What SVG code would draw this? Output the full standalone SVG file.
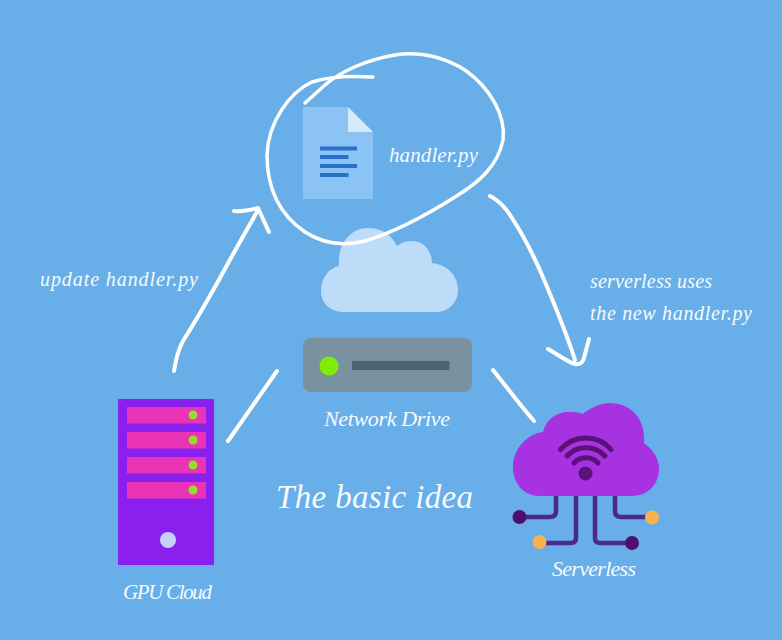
<svg xmlns="http://www.w3.org/2000/svg" width="782" height="640" viewBox="0 0 782 640">
<style>
.t{font-family:"Liberation Serif",serif;font-style:italic;fill:#f4fbff}
.s{fill:none;stroke:#fff;stroke-linecap:round;stroke-linejoin:round}
.c{fill:none;stroke:#4a2a8c;stroke-width:4.5}
</style>
<rect id="background" width="782" height="640" fill="#68aeE8"/>
<g id="file-node">
<path d="M303 107H348L373 132V199H303Z" fill="#8cc3f5"/>
<path d="M348 107L373 132H348Z" fill="#d5ebfb"/>
<g fill="#2a6fcb"><rect x="320" y="146.500" width="37" height="4"/><rect x="320" y="155" width="28.500" height="4"/><rect x="320" y="164" width="37" height="4"/><rect x="320" y="173" width="28.500" height="4"/></g>
<text class="t" x="389" y="162" font-size="21" textLength="89">handler.py</text>
</g>
<g id="network-drive-node">
<path d="M344 312C329 312 321 302 321 291C321 278 329 268 339 266C337 245 350 228 368 228C383 228 392 236 397 246C402 242 407 241 412 241C423 241 432 250 432 263C449 265 458 277 458 290C458 302 449 312 436 312Z" fill="#bcdcf8"/>
<rect x="303" y="338" width="169" height="54" rx="8" fill="#7a929f"/>
<circle cx="329" cy="366" r="9.500" fill="#7fed05"/>
<rect x="352" y="361" width="97.500" height="9" fill="#4d6471"/>
<text class="t" x="324" y="426" font-size="22" textLength="126">Network Drive</text>
</g>
<g id="gpu-cloud-node">
<rect x="118" y="399" width="96" height="166" fill="#8a20ee"/>
<g fill="#ea34b5"><rect x="127" y="407" width="79" height="16.500"/><rect x="127" y="432" width="79" height="16.500"/><rect x="127" y="457" width="79" height="16.500"/><rect x="127" y="482" width="79" height="16.500"/></g>
<g fill="#95dc2c"><circle cx="193" cy="415" r="4.500"/><circle cx="193" cy="440" r="4.500"/><circle cx="193" cy="465" r="4.500"/><circle cx="193" cy="490" r="4.500"/></g>
<circle cx="168" cy="540" r="8" fill="#c5d0f7"/>
<text class="t" x="123" y="599" font-size="21" textLength="89">GPU Cloud</text>
</g>
<g id="serverless-node">
<g class="c">
<path d="M556 495V511Q556 517 550 517H520"/>
<path d="M576 495V538Q576 543 571 543H540"/>
<path d="M595 495V538Q595 543 600 543H632"/>
<path d="M615 495V511Q615 517 621 517H652"/>
</g>
<path d="M540 496C524 496 513 484 513 467C513 449 527 434 543 432C546 420 556 412 568 412C573 412 578 412 583 414C590 408 600 403 610 403C630 403 646 418 644 443C652 449 659 457 659 469C659 484 648 496 632 496Z" fill="#a632e2"/>
<g fill="none" stroke="#5a1178" stroke-width="5" stroke-linecap="round">
<path d="M560.500 449.500C574 434 598 434 611 449.500"/>
<path d="M567 456C577 445 595 445 605 456"/>
<path d="M574 463C580 456 592 456 598 463"/>
</g>
<circle cx="585.500" cy="473.500" r="7" fill="#5a1178"/>
<circle cx="519.500" cy="517" r="7" fill="#4f0f6e"/>
<circle cx="632" cy="543" r="7" fill="#4f0f6e"/>
<circle cx="652" cy="517.500" r="7" fill="#f8b24e"/>
<circle cx="539.500" cy="542" r="7" fill="#f8b24e"/>
<text class="t" x="552" y="576" font-size="22" textLength="84">Serverless</text>
</g>
<g id="connectors">
<path class="s" stroke-width="3.500" d="M373 77C355 76 330 76 312 82C290 92 268 122 267 155C267 190 280 215 305 232C325 245 345 246 365 241C395 232 425 216 455 197C480 182 498 165 503 140C506 115 490 88 465 70C440 55 415 52 395 55C365 60 340 72 325 85L305 103"/>
<path class="s" stroke-width="4" d="M174 371C176 358 178 350 183 341C195 322 205 305 220 278C235 250 248 228 258 210M234 211C242 212 250 210 258 208L269 232"/>
<path class="s" stroke-width="4" d="M490 196C500 201 506 208 512 218C525 238 535 258 545 282C556 308 566 332 575 360M548 349C557 354 566 361 575 364C580 365 583 362 584 358L589 339"/>
<path class="s" stroke-width="4" d="M228 441L277 371"/>
<path class="s" stroke-width="4" d="M493 370C505 385 520 405 534 421"/>
</g>
<g id="labels">
<text class="t" x="40" y="286" font-size="20" textLength="158">update  handler.py</text>
<text class="t" x="590" y="288" font-size="20" textLength="122">serverless uses</text>
<text class="t" x="590" y="320" font-size="20" textLength="162">the new handler.py</text>
<text class="t" x="276" y="508" font-size="33" textLength="197">The basic idea</text>
</g>
</svg>
